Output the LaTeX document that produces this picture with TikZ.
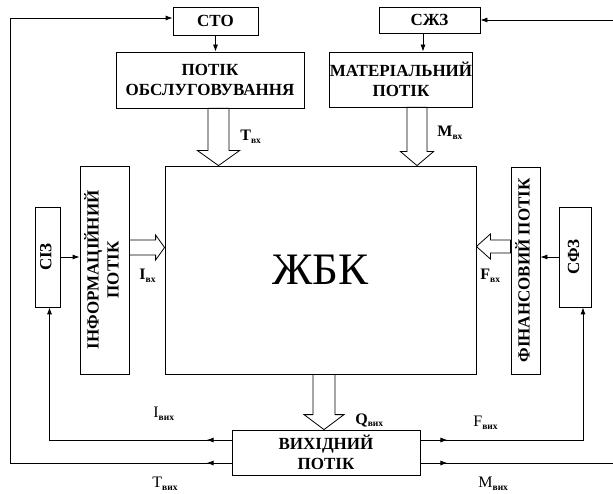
\documentclass[tikz,border=0pt]{standalone}
\usepackage{fontspec}
\setmainfont{Liberation Serif}
\usepackage{tikz}
\usetikzlibrary{positioning, arrows.meta, calc, decorations.markings}

\newcommand{\sub}[1]{\raisebox{-0.35ex}{\fontsize{9.5}{10}\selectfont\bfseries #1}}
\newcommand{\rot}[1]{\rotatebox{90}{\begin{tabular}{@{}c@{}}#1\end{tabular}}}

\begin{document}
\begin{tikzpicture}[x=1pt, y=-1pt, every node/.style={inner sep=2pt},
  line width=0.8pt,
  box/.style={draw, font=\bfseries\fontsize{17}{20}\selectfont, align=center, inner sep=0pt},
  flow/.style={-{Latex[length=7pt,width=5pt]}},
  midtip/.style={postaction={decorate}, decoration={markings,
    mark=at position #1 with {\arrow{Latex[length=7pt,width=5pt]}}}},
  fat/.style n args={3}{to path={
    ($(\tikztotarget)!#3!(\tikztostart)$) coordinate (fh)
    ($(\tikztostart)!#1!90:(\tikztotarget)$) -- ($(fh)!#1!-90:(\tikztostart)$)
    -- ($(fh)!#2!-90:(\tikztostart)$) -- (\tikztotarget)
    -- ($(fh)!#2!90:(\tikztostart)$) -- ($(fh)!#1!90:(\tikztostart)$)
    -- ($(\tikztostart)!#1!-90:(\tikztotarget)$) -- cycle}},
  lab/.style={anchor=west, inner sep=0pt, font=\fontsize{16}{18}\selectfont}]

\useasboundingbox (0,0) rectangle (613,494);

% boxes
\node[box, minimum width=85pt, minimum height=28pt] (sto) at (215.5,21) {СТО};
\node[box, minimum width=101pt, minimum height=26pt] (szz) at (429.5,20) {СЖЗ};
\node[box, minimum width=188pt, minimum height=56pt] (obs) at (210,80) {ПОТІК\\ОБСЛУГОВУВАННЯ};
\node[box, minimum width=142pt, minimum height=55pt] (mat) at (401,79.5) {МАТЕРІАЛЬНИЙ\\ПОТІК};
\node[draw, minimum width=311pt, minimum height=208pt,
  font=\fontsize{45}{48}\selectfont] (zbk) at (320.5,270) {ЖБК};
\node[box, minimum width=49pt, minimum height=208pt] (inf) at (104.5,270) {\rot{ІНФОРМАЦІЙНИЙ\\ПОТІК}};
\node[box, minimum width=25pt, minimum height=100pt] (siz) at (47.5,257) {\rot{СІЗ}};
\node[box, minimum width=29pt, minimum height=207pt] (fin) at (525.5,270.5) {\rot{ФІНАНСОВИЙ ПОТІК}};
\node[box, minimum width=32pt, minimum height=100pt] (sfz) at (575,257) {\rot{СФЗ}};
\node[box, minimum width=188pt, minimum height=45pt] (vyh) at (326,452.5) {ВИХІДНИЙ\\ПОТІК};

% hollow arrows
\path ([xshift=8.5pt]obs.south) coordinate (ta) (ta |- zbk.north) coordinate (tb);
\path ([xshift=16pt]mat.south) coordinate (ma) (ma |- zbk.north) coordinate (mb);
\path ([yshift=22.5pt]inf.east) coordinate (ia) (ia -| zbk.west) coordinate (ib);
\path ([yshift=24pt]fin.west) coordinate (fa) (fa -| zbk.east) coordinate (fb);
\path ([xshift=3.5pt]zbk.south) coordinate (qa) (qa |- vyh.north) coordinate (qb);
\draw[fat={10.5pt}{21pt}{15pt}] (ta) to (tb);
\draw[fat={10pt}{16.5pt}{14pt}] (ma) to (mb);
\draw[fat={7.5pt}{12.5pt}{9pt}] (ia) to (ib);
\draw[fat={6.5pt}{12.5pt}{14pt}] (fa) to (fb);
\draw[fat={11pt}{20pt}{15pt}] (qa) to (qb);

% thin arrows
\path ([xshift=-6.5pt]szz.south) coordinate (sa);
\draw[flow] (sto.south) -- (sto.south |- obs.north);
\draw[flow] (sa) -- (sa |- mat.north);
\draw[flow] (siz.east) -- (siz.east -| inf.west);
\draw[flow] (sfz.west) -- (sfz.west -| fin.east);

% feedback lines
\coordinate (lx) at (10,463);
\coordinate (rx) at (613,463);
\path ([yshift=-10.5pt]vyh.west) coordinate (tv)
      ([yshift=12.5pt]vyh.west) coordinate (iv)
      ([yshift=12.5pt]vyh.east) coordinate (fv)
      ([yshift=-10.5pt]vyh.east) coordinate (mv);
\draw[flow, midtip=25pt] (tv) -- (tv -| lx) |- ([yshift=3pt]sto.west);
\draw[flow, midtip=25pt] (iv) -| ([xshift=2pt]siz.south);
\draw[flow, midtip=27pt] (fv) -| ([xshift=8pt]sfz.south);
\draw[midtip=27pt] (mv) -- (mv -| rx);
\draw[flow] (szz.east -| rx) -- (szz.east);

% labels
\node[lab] (tvx) at (240,137) {\textbf{T}\sub{вх}};
\node[lab] (mvx) at (437,133) {\textbf{M}\sub{вх}};
\node[lab] (ivx) at (139,276) {\textbf{I}\sub{вх}};
\node[lab] (fvx) at (480,276) {\textbf{F}\sub{вх}};
\node[lab] (qvy) at (355,420) {\textbf{Q}\sub{вих}};
\node[lab] (ivy) at (153,414) {I\sub{вих}};
\node[lab] (tvy) at (152,484) {T\sub{вих}};
\node[lab] (fvy) at (473,423) {F\sub{вих}};
\node[lab] (mvy) at (478,484) {M\sub{вих}};
\end{tikzpicture}
\end{document}
